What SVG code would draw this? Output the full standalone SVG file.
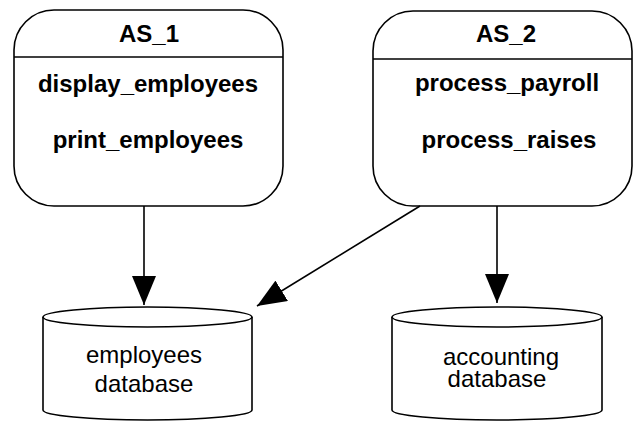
<svg xmlns="http://www.w3.org/2000/svg" width="633" height="421" viewBox="0 0 633 421">
  <style>
    .shape { fill: #ffffff; stroke: #000000; stroke-width: 1.6; }
    .line { fill: none; stroke: #000000; stroke-width: 1.6; }
    .title { font-family: "Liberation Sans", Arial, sans-serif; font-size: 24px; font-weight: bold; text-anchor: middle; fill: #000000; }
    .label { font-family: "Liberation Sans", Arial, sans-serif; font-size: 24px; text-anchor: middle; fill: #000000; }
  </style>
  <defs>
    <marker id="arrow" markerUnits="userSpaceOnUse" markerWidth="30" markerHeight="24" refX="29" refY="12" orient="auto">
      <path d="M0,0 L29,12 L0,24 Z" fill="#000000"/>
    </marker>
  </defs>
  <rect width="633" height="421" fill="#ffffff"/>

  <!-- application servers -->
  <g id="as1">
    <rect class="shape" x="14" y="10" width="269" height="196" rx="40" ry="40"/>
    <line class="line" x1="14" y1="57" x2="283" y2="57"/>
    <text class="title" x="149" y="42">AS_1</text>
    <text class="title" x="148" y="92">display_employees</text>
    <text class="title" x="148" y="148">print_employees</text>
  </g>
  <g id="as2">
    <rect class="shape" x="373" y="11" width="259" height="195" rx="40" ry="40"/>
    <line class="line" x1="373" y1="59" x2="632" y2="59"/>
    <text class="title" x="506" y="42">AS_2</text>
    <text class="title" x="507" y="91">process_payroll</text>
    <text class="title" x="509" y="148">process_raises</text>
  </g>

  <!-- databases -->
  <g id="employees-db">
    <path class="shape" d="M43,317 L43,410 A104.5,10 0 0 0 252,410 L252,317"/>
    <ellipse class="shape" cx="147.5" cy="317" rx="104.5" ry="10"/>
    <text class="label" x="144" y="363">employees</text>
    <text class="label" x="144" y="392">database</text>
  </g>
  <g id="accounting-db">
    <path class="shape" d="M392,317 L392,410 A105,10 0 0 0 602,410 L602,317"/>
    <ellipse class="shape" cx="497" cy="317" rx="105" ry="10"/>
    <text class="label" x="501" y="365">accounting</text>
    <text class="label" x="497" y="387">database</text>
  </g>

  <!-- connectors -->
  <g id="connectors">
    <line class="line" x1="144" y1="206" x2="144" y2="305" marker-end="url(#arrow)"/>
    <line class="line" x1="497" y1="206" x2="497" y2="303" marker-end="url(#arrow)"/>
    <line class="line" x1="420" y1="206" x2="257" y2="306" marker-end="url(#arrow)"/>
  </g>
</svg>
